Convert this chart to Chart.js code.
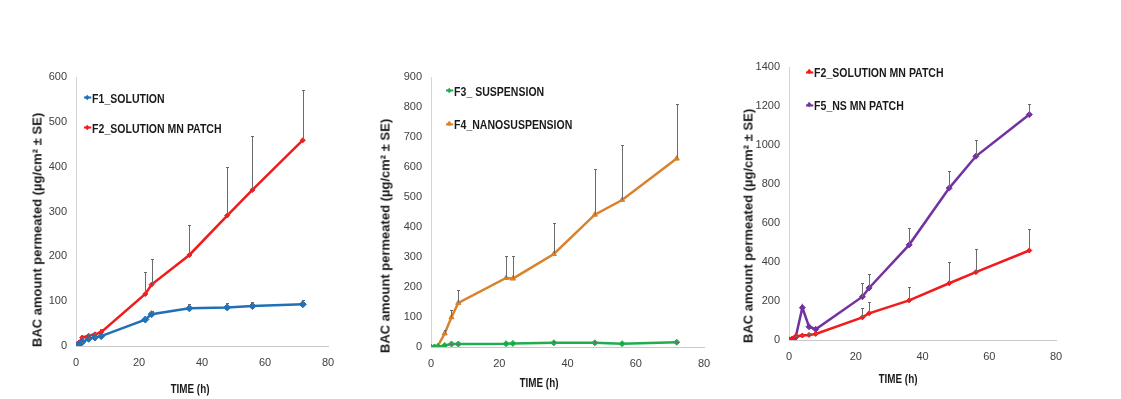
<!DOCTYPE html>
<html>
<head>
<meta charset="utf-8">
<script src="https://cdn.jsdelivr.net/npm/chart.js@4.4.1/dist/chart.umd.min.js"></script>
<style>
  html, body { margin: 0; padding: 0; background: #fff; }
  #wrap { position: relative; width: 1121px; height: 399px; overflow: hidden; background: #fff; }
  .panel { position: absolute; }
  .ytitle, .xtitle {
    position: absolute; white-space: nowrap; color: #1a1a1a;
    font: bold 13px "Liberation Sans", Arial, sans-serif;
  }
  .ytitle { transform: translate(-50%, -50%) rotate(-90deg); }
  .xtitle { transform: translate(-50%, -50%) scaleX(0.76); }
  .leg { position: absolute; display: flex; align-items: center; transform-origin: 0 50%;
    transform: translateY(-50%) scaleX(0.81);
    font: bold 13px "Liberation Sans", Arial, sans-serif; color: #1a1a1a; white-space: nowrap; }
  .leg .mk { position: relative; display: inline-block; width: 9px; height: 2px; margin-right: 1px; }
  .leg .mk i { position: absolute; left: 2px; top: -1.5px; width: 4px; height: 4px; transform: rotate(45deg); }
</style>
</head>
<body>
<div id="wrap"></div>
<script>
  // shared sampling times (h)
  const TIME = [0, 1, 2, 4, 6, 8, 22, 24, 36, 48, 56, 72];

  // series values, µg/cm²
  const F1_SOLUTION     = [0, 4, 9, 16, 19, 22, 59, 71, 84, 86, 89, 93];
  const F1_SE           = [0, 0, 1, 2, 2, 3, 5, 6, 9, 10, 10, 9];
  const F2_MN_PATCH     = [4, 8, 19, 23, 26, 31, 116, 137, 203, 291, 348, 459];
  const F2_SE           = [0, 0, 2, 3, 4, 7, 50, 57, 67, 108, 121, 111];
  const F3_SUSPENSION   = [0, 0, 1, 5, 10, 10, 11, 12, 14, 14, 11, 16];
  const F3_SE           = [0, 0, 0, 1, 1, 1, 2, 2, 2, 2, 2, 2];
  const F4_NANOSUSP     = [0, 0, 3, 45, 99, 147, 230, 228, 310, 441, 490, 628];
  const F4_SE           = [0, 0, 0, 13, 26, 42, 75, 77, 105, 154, 185, 182];
  const F5_NS_MN_PATCH  = [0, 4, 14, 166, 68, 55, 222, 267, 488, 779, 942, 1156];
  const F5_SE           = [0, 0, 0, 0, 0, 0, 68, 74, 87, 86, 83, 54];

  // axis ticks
  const X_TICKS = { min: 0, max: 80, step: 20 };
  const Y_TICKS = [
    { min: 0, max: 600, step: 100 },
    { min: 0, max: 900, step: 100 },
    { min: 0, max: 1400, step: 200 }
  ];

  const Y_TITLE = 'BAC  amount permeated (µg/cm² ± SE)';
  const X_TITLE = 'TIME (h)';

  const COLORS = {
    F1: '#2170b7', F2: '#f01c1c', F3: '#20ad4e', F4: '#d9822b', F5: '#7233a0'
  };

  /* ---------------- helpers ---------------- */
  const pts = vals => TIME.map((t, i) => ({ x: t, y: vals[i] }));

  function series(label, vals, se, color, style, r) {
    return {
      label, data: pts(vals), errUp: se,
      borderColor: color, backgroundColor: color,
      pointBackgroundColor: color, pointBorderColor: color,
      pointStyle: style, pointRadius: r, pointBorderWidth: 1,
      borderWidth: 2.5, tension: 0, fill: false
    };
  }

  // upper-only error bars, Excel style
  const errorBars = {
    id: 'errorBars',
    afterDatasetsDraw(chart) {
      const { ctx, scales: { x, y } } = chart;
      ctx.save();
      ctx.strokeStyle = '#6b6b6b';
      ctx.lineWidth = 1;
      chart.data.datasets.forEach(ds => {
        if (!ds.errUp) return;
        ds.data.forEach((p, j) => {
          const e = ds.errUp[j];
          if (!e) return;
          const px = Math.round(x.getPixelForValue(p.x)) + 0.5;
          const y0 = y.getPixelForValue(p.y);
          const y1 = Math.round(y.getPixelForValue(p.y + e)) + 0.5;
          ctx.beginPath();
          ctx.moveTo(px, y0); ctx.lineTo(px, y1);
          ctx.moveTo(px - 1.5, y1); ctx.lineTo(px + 1.5, y1);
          ctx.stroke();
        });
      });
      ctx.restore();
    }
  };

  const wrap = document.getElementById('wrap');

  function addEl(cls, text, css) {
    const d = document.createElement('div');
    d.className = cls;
    if (text != null) d.textContent = text;
    Object.assign(d.style, css);
    wrap.appendChild(d);
    return d;
  }

  function legendItem(label, color, left, top) {
    const d = addEl('leg', null, { left: left + 'px', top: top + 'px' });
    const mk = document.createElement('span');
    mk.className = 'mk';
    mk.style.background = color;
    const dot = document.createElement('i');
    dot.style.background = color;
    mk.appendChild(dot);
    d.appendChild(mk);
    d.appendChild(document.createTextNode(label));
  }

  function makePanel(p) {
    const box = addEl('panel', null, {
      left: p.box[0] + 'px', top: p.box[1] + 'px',
      width: p.box[2] + 'px', height: p.box[3] + 'px'
    });
    const cv = document.createElement('canvas');
    box.appendChild(cv);

    new Chart(cv.getContext('2d'), {
      type: 'line',
      data: { datasets: p.datasets },
      options: {
        responsive: true,
        maintainAspectRatio: false,
        animation: false,
        layout: { padding: { left: 0, top: p.padTop, right: 20, bottom: 0 } },
        plugins: { legend: { display: false }, tooltip: { enabled: false } },
        scales: {
          x: {
            type: 'linear', min: X_TICKS.min, max: X_TICKS.max,
            grid: { display: false, drawTicks: false },
            border: { display: true, color: '#c8c8c8', width: 1 },
            ticks: { stepSize: X_TICKS.step, padding: 10, color: '#404040',
                     font: { family: 'Liberation Sans, Arial, sans-serif', size: 11 } },
            afterFit: s => { s.height = p.xH; }
          },
          y: {
            min: p.yt.min, max: p.yt.max,
            grid: { display: false, drawTicks: false },
            border: { display: true, color: '#d4d4d4', width: 1 },
            ticks: { stepSize: p.yt.step, padding: 9, color: '#404040',
                     font: { family: 'Liberation Sans, Arial, sans-serif', size: 11 },
                     callback: v => String(v) },
            afterFit: s => { s.width = p.yW; }
          }
        }
      },
      plugins: [errorBars]
    });

    addEl('ytitle', Y_TITLE, { left: p.yTitle[0] + 'px', top: p.yTitle[1] + 'px' });
    addEl('xtitle', X_TITLE, { left: p.xTitle[0] + 'px', top: p.xTitle[1] + 'px' });
    p.legend.forEach(l => legendItem(l[0], l[1], l[2], l[3]));
  }

  /* ---------------- panels ---------------- */
  makePanel({
    box: [16, 60, 332, 339], padTop: 17, xH: 53, yW: 60, yt: Y_TICKS[0],
    datasets: [
      series('F1_SOLUTION', F1_SOLUTION, F1_SE, COLORS.F1, 'rectRot', 3.5),
      series('F2_SOLUTION MN PATCH', F2_MN_PATCH, F2_SE, COLORS.F2, 'rectRot', 2.5)
    ],
    yTitle: [37, 230], xTitle: [190, 388],
    legend: [['F1_SOLUTION', COLORS.F1, 84, 97.5], ['F2_SOLUTION MN PATCH', COLORS.F2, 84, 127.8]]
  });

  makePanel({
    box: [370, 60, 354, 339], padTop: 17, xH: 52, yW: 61, yt: Y_TICKS[1],
    datasets: [
      series('F3_ SUSPENSION', F3_SUSPENSION, F3_SE, COLORS.F3, 'rectRot', 3),
      series('F4_NANOSUSPENSION', F4_NANOSUSP, F4_SE, COLORS.F4, 'triangle', 3)
    ],
    yTitle: [385, 236], xTitle: [539, 382],
    legend: [['F3_ SUSPENSION', COLORS.F3, 446, 90.5], ['F4_NANOSUSPENSION', COLORS.F4, 446, 124]]
  });

  makePanel({
    box: [730, 50, 346, 349], padTop: 17, xH: 59, yW: 59, yt: Y_TICKS[2],
    datasets: [
      series('F2_SOLUTION MN PATCH', F2_MN_PATCH, F2_SE, COLORS.F2, 'rectRot', 2.5),
      series('F5_NS MN PATCH', F5_NS_MN_PATCH, F5_SE, COLORS.F5, 'rectRot', 3)
    ],
    yTitle: [748, 226], xTitle: [898, 378],
    legend: [['F2_SOLUTION MN PATCH', COLORS.F2, 806, 72], ['F5_NS MN PATCH', COLORS.F5, 806, 105]]
  });
</script>
</body>
</html>
